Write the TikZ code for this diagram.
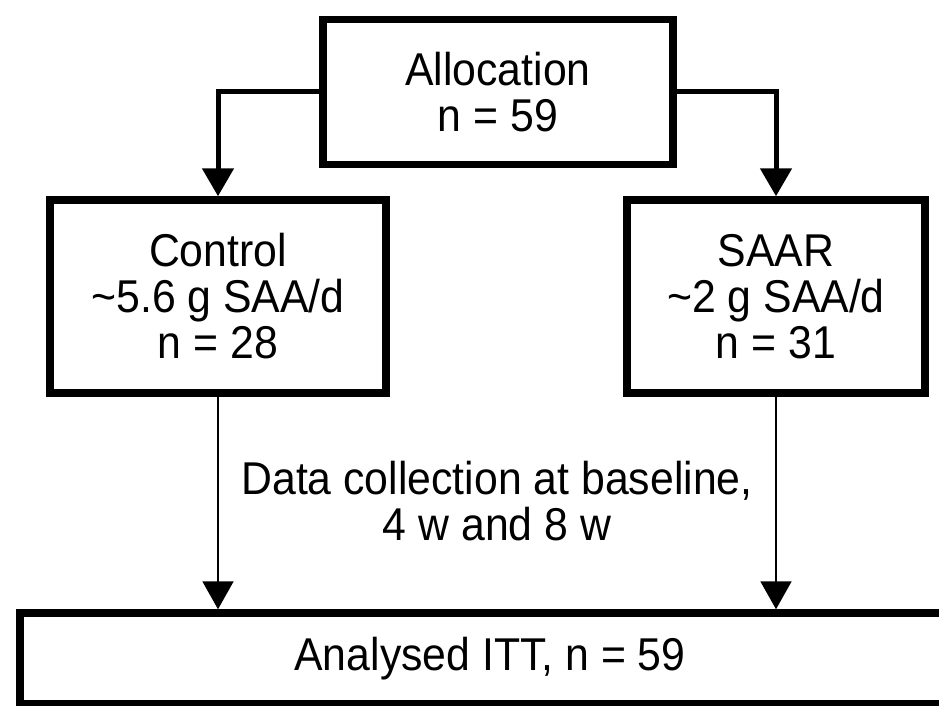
\documentclass[tikz,border=0pt]{standalone}
\usepackage{fontspec}
\setmainfont{Liberation Sans}[FakeStretch=0.93]
\usetikzlibrary{positioning, calc}
\usetikzlibrary{arrows.meta}

\begin{document}
\begin{tikzpicture}[x=1pt,y=-1pt,draw=black!100]
	\def \rowzero{92}
	\def \rowone{296.5}
	\def \rowtwo{658.5}
	\tikzstyle{b-node}=[draw,rectangle,line width=7.5pt,align=center,font=\fontsize{46}{46}\selectfont]
	\tikzstyle{annot}=[align=center,font=\fontsize{46}{46}\selectfont]
	\tikzstyle{fat-arr}=[line width=5pt,-{Triangle[width=31pt,length=28pt]}]
	\tikzstyle{thin-arr}=[line width=2pt,-{Triangle[width=31pt,length=28pt]}]
	\useasboundingbox (0,0) rectangle (939,706);
	\clip (0,0) rectangle (939,706);

	% allocation
	\node[b-node,minimum width=350pt,minimum height=145pt] 	(alloc)	at (498,\rowzero)	{Allocation\\n = 59};

	% groups
	\node[b-node,minimum width=336pt,minimum height=193pt] 	(ctrl)	at (218,\rowone)	{Control\\\textasciitilde 5.6 g SAA/d\\n = 28};
	\node[b-node,minimum width=298pt,minimum height=193pt] 	(saar)	at (776,\rowone)	{SAAR\\\textasciitilde 2 g SAA/d\\n = 31};

	% analysis
	\node[b-node,minimum width=940pt,minimum height=91pt] 	(itt)	at (490,\rowtwo)	{Analysed ITT, n = 59};
	\node[annot] 	(collect)	at (497,501)	{Data collection at baseline,\\4 w and 8 w};

	\draw[fat-arr]	(alloc.west)	-|	(ctrl.north);
	\draw[fat-arr]	(alloc.east)	-|	(saar.north);
	%
	\draw[thin-arr]	(ctrl.south)	--	(ctrl.south |- itt.north);
	\draw[thin-arr]	(saar.south)	--	(saar.south |- itt.north);
\end{tikzpicture}
\end{document}
